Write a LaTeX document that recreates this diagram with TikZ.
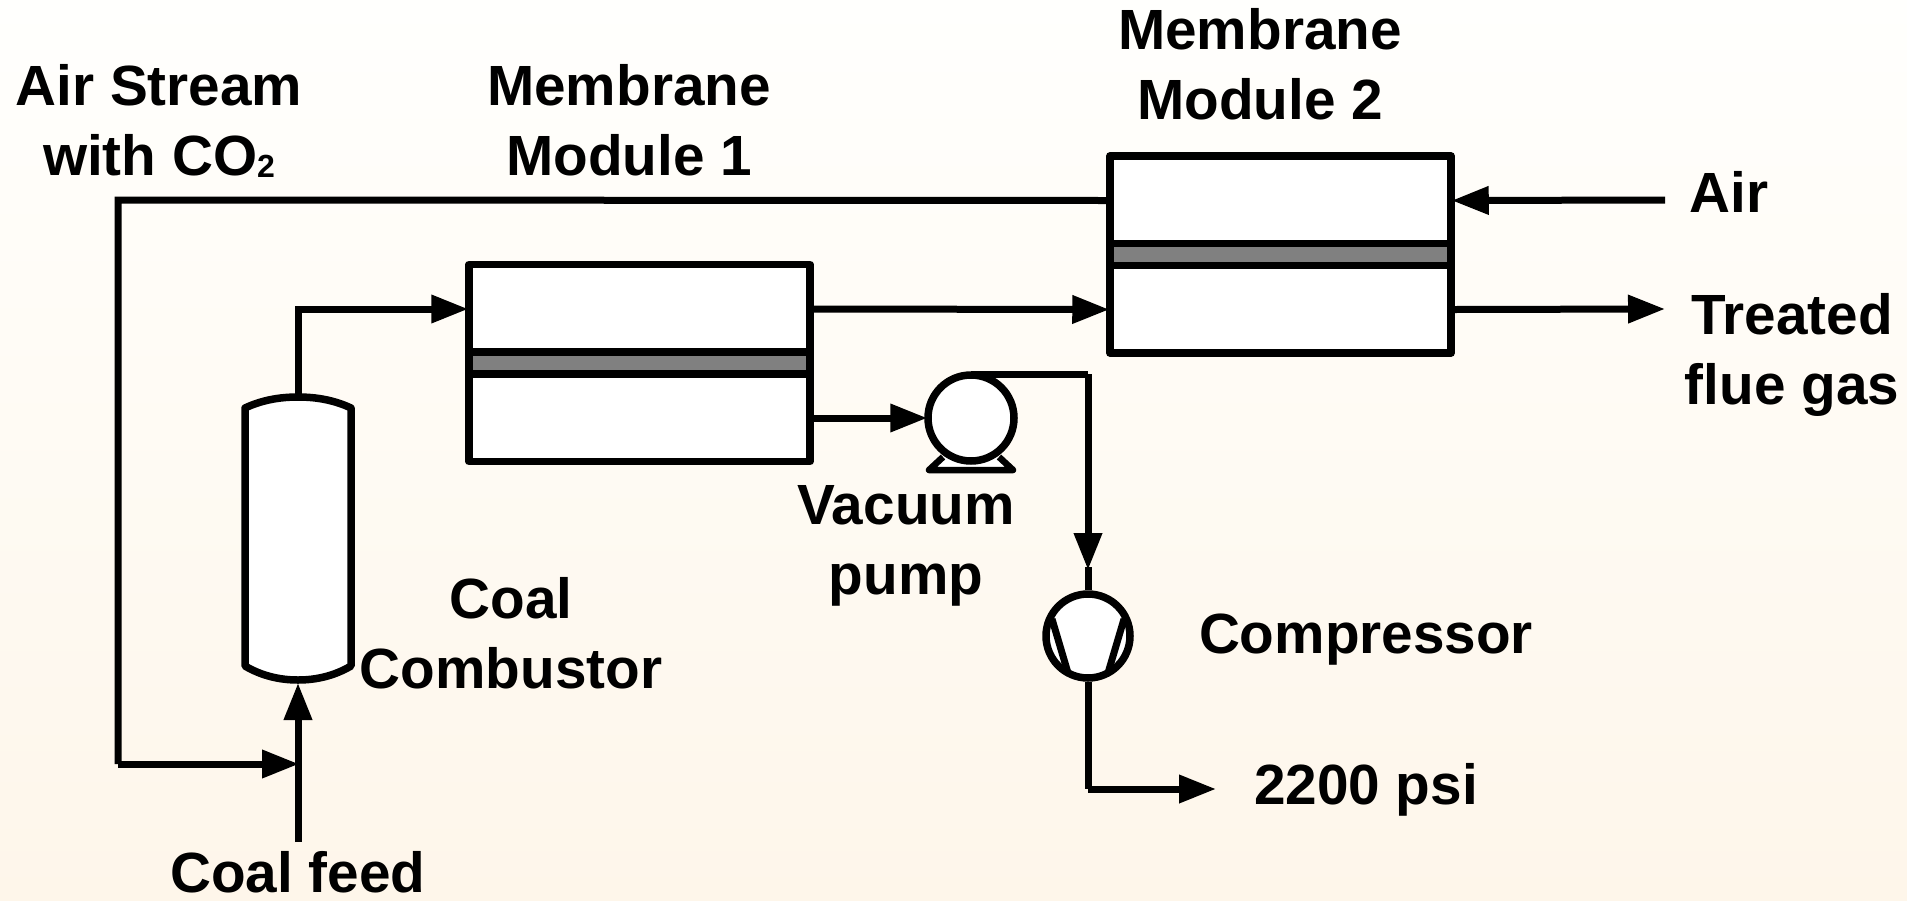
\documentclass[tikz,border=0pt]{standalone}
\usepackage{fontspec}
\setmainfont{Liberation Sans}
\usetikzlibrary{arrows.meta,calc}
\definecolor{bgtop}{HTML}{FFFFFD}
\definecolor{bgbot}{HTML}{FEF6EA}
\tikzset{
  pipe/.style={line width=7pt,line join=miter},
  flow/.style={pipe,shorten >=-3pt,-{Triangle[length=37pt,width=27pt]}},
  unit/.style={draw,fill=white,line width=7.5pt,line join=round,inner sep=0pt},
  lbl/.style={font=\fontsize{56.7}{70.5}\selectfont\bfseries,align=center,inner sep=0pt}
}
\newcommand\membranemodule[3]{
  \node[unit,minimum width=341pt,minimum height=197pt] (#1) at (#2,#3) {};
  \draw[line width=7.5pt,fill=gray] % Membrane
    (#2-170.5,#3-11) rectangle (#2+170.5,#3+11);
  \coordinate (#1uw) at ($(#1.west)+(0,-54)$);
  \coordinate (#1ue) at ($(#1.east)+(0,-54)$);
  \coordinate (#1lw) at ($(#1.west)+(0,55)$);
  \coordinate (#1le) at ($(#1.east)+(0,55)$);
}
\begin{document}
\begin{tikzpicture}[x=1pt,y=-1pt]
  \useasboundingbox (0,0) rectangle (1907,900);
  \shade[top color=bgtop,bottom color=bgbot] (0,0) rectangle (1907,900);

  \membranemodule{modone}{639.5}{363}
  \membranemodule{modtwo}{1280.5}{254.5}

  % Coal combustor
  \draw[unit] (245,408) .. controls (262,400) and (280,397) .. (298,397)
    .. controls (316,397) and (334,400) .. (351,408) -- (351,666)
    .. controls (334,676) and (316,680) .. (298,680)
    .. controls (280,680) and (262,676) .. (245,666) -- cycle;
  \coordinate (vesseltop) at (298,397);
  \coordinate (vesselbot) at (298,686);

  % Vacuum pump
  \draw[unit,line width=6.5pt] (943,457) -- (929,470) -- (1013,470) -- (999,457);
  \node[unit,circle,minimum size=86pt] (pump) at (971,418) {};

  % Compressor
  \node[unit,circle,minimum size=84pt] (comp) at (1088,636) {};
  \draw[line width=7pt,line join=round] (1052,619) -- (1068,673);
  \draw[line width=7pt,line join=round] (1124,619) -- (1108,673);

  \coordinate (airend) at (118,200);
  \coordinate (mixdown) at (118,764);
  \coordinate (mixpt) at (296,764);
  \coordinate (coalin) at (298,842);
  \coordinate (airin) at (1665,200);
  \coordinate (treated) at (1662,309);
  \coordinate (pumpbend) at (1088,374);
  \coordinate (compin) at (1088,567);
  \coordinate (compbend) at (1088,789);
  \coordinate (hpout) at (1213,789);

  \draw[pipe] (modtwouw) -- (airend) -- (mixdown);
  \draw[flow] (mixdown) -- (mixpt);
  \draw[flow] (coalin) -- (vesselbot);
  \draw[flow] (vesseltop) |- (modoneuw);
  \draw[flow] (modoneue) -- (modtwolw);
  \draw[flow] (airin) -- (modtwoue);
  \draw[flow] (modtwole) -- (treated);
  \draw[flow] (modonele) -- (pump.west);
  \draw[pipe] (pump.north |- pumpbend) -- (pumpbend);
  \draw[flow] (pumpbend) -- (compin);
  \draw[pipe] (compin) -- (comp.north);
  \draw[pipe] (comp.south) -- (compbend);
  \draw[flow] (compbend) -- (hpout);

  \node[lbl] (airlbl) at (159,121) {Air Stream\\with CO\raisebox{-2pt}{\fontsize{32}{32}\selectfont 2}};
  \node[lbl] (modonelbl) at (629,120) {Membrane\\Module 1};
  \node[lbl] (modtwolbl) at (1260,64) {Membrane\\Module 2};
  \node[lbl] (airinlbl) at (1729,192) {Air};
  \node[lbl] (treatedlbl) at (1792,355) {Treated\\flue gas};
  \node[lbl] (pumplbl) at (906,546) {Vacuum\\pump};
  \node[lbl] (combustorlbl) at (511,633) {Coal\\Combustor};
  \node[lbl] (complbl) at (1366,640) {Compressor};
  \node[lbl] (hplbl) at (1366,790) {2200 psi};
  \node[lbl] (coallbl) at (298,872) {Coal feed};
\end{tikzpicture}
\end{document}
